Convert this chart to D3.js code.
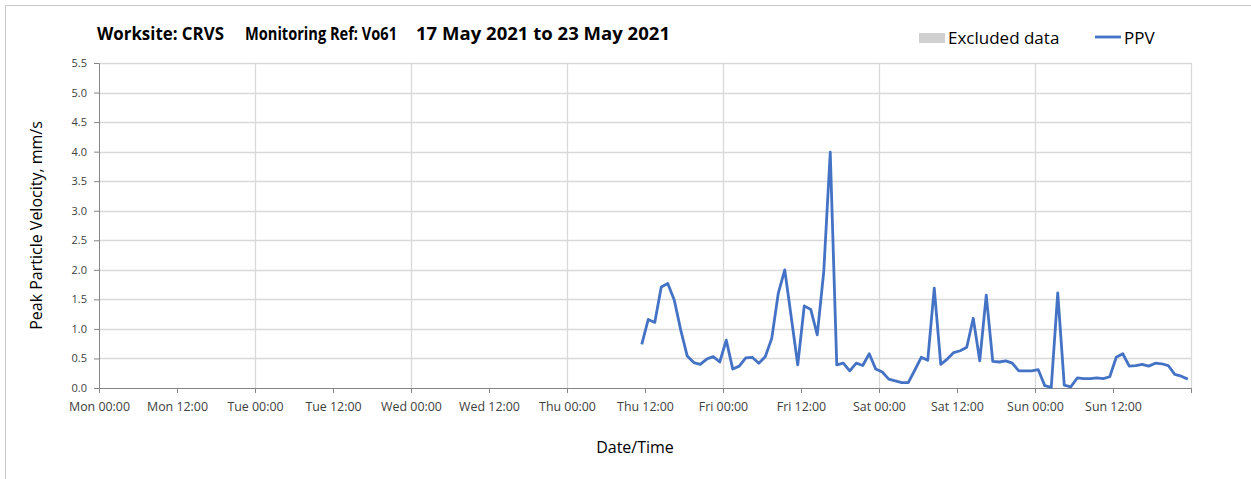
<!DOCTYPE html>
<html>
<head>
<meta charset="utf-8">
<script src="https://cdn.jsdelivr.net/npm/d3@7"></script>
<style>
  body { margin: 0; background: #fff; }
  text { font-family: "Open Sans", "Noto Sans", sans-serif; fill: #404040; }
</style>
</head>
<body>
<div id="chart"></div>
<script>
// hourly PPV readings, first one Thu 20 May 2021 11:30
var firstReading = "2021-05-20T11:30:00Z";
var ppvValues = [
  0.74, 1.16, 1.11, 1.71, 1.77, 1.49, 0.98, 0.54, 0.43, 0.40, 0.49, 0.53, 0.44, 0.81,
  0.32, 0.37, 0.51, 0.52, 0.42, 0.53, 0.84, 1.60, 2.00, 1.20, 0.39, 1.39, 1.33, 0.90,
  1.97, 3.99, 0.39, 0.42, 0.29, 0.42, 0.38, 0.58, 0.32, 0.27, 0.15, 0.12, 0.09, 0.09,
  0.30, 0.52, 0.47, 1.69, 0.40, 0.49, 0.60, 0.63, 0.69, 1.18, 0.46, 1.57, 0.45, 0.44,
  0.46, 0.42, 0.29, 0.29, 0.29, 0.31, 0.04, 0.01, 1.61, 0.05, 0.02, 0.17, 0.16, 0.16,
  0.17, 0.16, 0.19, 0.52, 0.58, 0.37, 0.38, 0.40, 0.37, 0.42, 0.41, 0.38, 0.23, 0.20,
  0.15
];
var excludedData = []; // no excluded periods this week
var yTicks = [0, 0.5, 1, 1.5, 2, 2.5, 3, 3.5, 4, 4.5, 5, 5.5];
var titleParts = ["Worksite: CRVS", "Monitoring Ref: Vo61", "17 May 2021 to 23 May 2021"];
var weekStart = "2021-05-17T00:00:00Z";
var weekEnd = "2021-05-24T00:00:00Z";

var width = 1251, height = 479;
var margin = {top: 63, right: 60, bottom: 91, left: 99};
var plot_w = width - margin.left - margin.right;
var plot_h = height - margin.top - margin.bottom;

var svg = d3.select("#chart").append("svg")
  .attr("width", width).attr("height", height);

// chart frame
svg.append("rect")
  .attr("x", 5.5).attr("y", 5.5)
  .attr("width", width + 20).attr("height", height + 20)
  .style("fill", "none").style("stroke", "#c8c8c8");

var t0 = new Date(firstReading);
var points = ppvValues.map(function(v, i) {
  return {t: d3.utcHour.offset(t0, i), v: v};
});

var x = d3.scaleUtc()
  .domain([new Date(weekStart), new Date(weekEnd)])
  .range([0, plot_w]);
var y = d3.scaleLinear()
  .domain([0, 5.5])
  .range([plot_h, 0]);

var g = svg.append("g")
  .attr("transform", "translate(" + margin.left + "," + margin.top + ")");

// excluded periods (none)
g.selectAll(".excl").data(excludedData).enter().append("rect")
  .attr("class", "excl")
  .attr("x", function(d) { return x(new Date(d[0])); })
  .attr("width", function(d) { return x(new Date(d[1])) - x(new Date(d[0])); })
  .attr("y", 0).attr("height", plot_h)
  .style("fill", "#d0d0d0");

// gridlines
g.append("g").selectAll("line").data(yTicks.slice(1)).enter().append("line")
  .attr("x1", 0).attr("x2", plot_w)
  .attr("y1", function(d) { return Math.round(y(d)) + 0.5; })
  .attr("y2", function(d) { return Math.round(y(d)) + 0.5; })
  .style("stroke", "#d9d9d9").style("stroke-width", 1.3);
g.append("g").selectAll("line").data(d3.utcDay.range(new Date(weekStart), d3.utcHour.offset(new Date(weekEnd), 1)).slice(1))
  .enter().append("line")
  .attr("x1", function(d) { return Math.round(x(d)) + 0.5; })
  .attr("x2", function(d) { return Math.round(x(d)) + 0.5; })
  .attr("y1", 0).attr("y2", plot_h)
  .style("stroke", "#d9d9d9").style("stroke-width", 1.3);

// axes
var xAxis = g.append("g")
  .attr("transform", "translate(0," + plot_h + ")")
  .call(d3.axisBottom(x)
    .tickValues(d3.utcHour.every(12).range(new Date(weekStart), d3.utcHour.offset(new Date(weekEnd), 1)))
    .tickSize(5).tickPadding(9)
    .tickFormat(function(d) { return d < new Date(weekEnd) ? d3.utcFormat("%a %H:%M")(d) : ""; }));
xAxis.selectAll("text").style("font-size", "12.4px").style("fill", "#404040");
xAxis.selectAll("line, path").style("stroke", "#868686");

var yAxis = g.append("g")
  .call(d3.axisLeft(y).tickValues(yTicks).tickSize(5).tickPadding(7)
    .tickFormat(d3.format(".1f")));
yAxis.selectAll("text").style("font-size", "11px").style("fill", "#404040");
yAxis.selectAll("line, path").style("stroke", "#868686");

// PPV line
g.append("path")
  .datum(points)
  .attr("d", d3.line()
    .x(function(d) { return x(d.t); })
    .y(function(d) { return y(d.v); }))
  .style("fill", "none")
  .style("stroke", "#4472c4")
  .style("stroke-width", 2.8)
  .style("stroke-linejoin", "round");

// title
var titleX = [97, 245, 416];
var titleW = [127, 152, 254];
titleParts.forEach(function(s, i) {
  svg.append("text")
    .attr("x", titleX[i]).attr("y", 40)
    .attr("textLength", titleW[i]).attr("lengthAdjust", "spacingAndGlyphs")
    .style("font-size", "17px").style("font-weight", "bold").style("fill", "#000")
    .text(s);
});

// legend
svg.append("rect").attr("x", 919).attr("y", 33).attr("width", 26).attr("height", 10)
  .style("fill", "#d0d0d0");
svg.append("text").attr("x", 948).attr("y", 44)
  .style("font-size", "17px").style("fill", "#000").text("Excluded data");
svg.append("line").attr("x1", 1095).attr("x2", 1121).attr("y1", 37).attr("y2", 37)
  .style("stroke", "#4472c4").style("stroke-width", 2.8);
svg.append("text").attr("x", 1124).attr("y", 44)
  .style("font-size", "17px").style("fill", "#000").text("PPV");

// axis titles
svg.append("text")
  .attr("text-anchor", "middle")
  .attr("transform", "translate(42," + (margin.top + plot_h / 2) + ") rotate(-90)")
  .style("font-size", "16px").style("fill", "#000")
  .text("Peak Particle Velocity, mm/s");
svg.append("text")
  .attr("text-anchor", "middle")
  .attr("x", 635).attr("y", 453)
  .style("font-size", "16px").style("fill", "#000")
  .text("Date/Time");
</script>
</body>
</html>
